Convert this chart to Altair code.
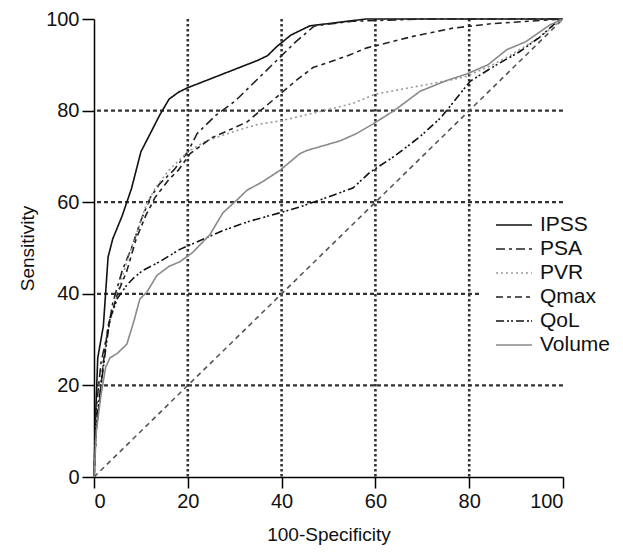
import altair as alt
import pandas as pd

series_names = ["IPSS", "PSA", "PVR", "Qmax", "QoL", "Volume"]

ipss_x = [0, 0.3, 0.8, 2, 3, 4, 6, 8, 10, 12, 14, 16, 18, 20, 25, 30, 35, 37, 39, 42, 46, 50, 58, 100]
ipss_y = [0, 12, 26, 33, 48, 52, 57, 63, 71, 75, 79, 82.5, 84, 85, 87, 89, 91, 92, 94, 96.5, 98.5, 99, 100, 100]

psa_x = [0, 0.5, 1.5, 3, 4, 6, 8, 10, 12, 14, 17, 20, 22, 26, 30, 35, 39, 43, 47, 55, 70, 100]
psa_y = [0, 15, 25, 32, 38, 45, 50, 56, 61, 64, 67, 71, 75, 79, 82, 87, 91, 95, 98.5, 99.5, 100, 100]

pvr_x = [0, 0.5, 1.5, 3, 5, 7, 9, 11, 13, 16, 20, 24, 30, 35, 40, 49, 55, 60, 70, 79, 85, 89, 95, 100]
pvr_y = [0, 12, 22, 32, 40, 47, 53, 59, 63, 67, 71, 73.4, 75.5, 77, 77.8, 80, 81.5, 83.6, 85.5, 87.3, 90, 92.2, 96, 100]

qmax_x = [0, 0.5, 2, 3, 5, 7, 9, 11, 13, 16, 18, 20.5, 25, 32.6, 39, 43, 46.7, 50, 54.6, 58.2, 61, 68, 76.5, 85, 100]
qmax_y = [0, 10, 25, 33, 40, 45, 52, 57, 61, 65, 67, 70.6, 74, 77.5, 83, 86.5, 89.4, 90.5, 92.2, 93.7, 94.4, 96.2, 98, 99, 100]

qol_x = [0, 0.5, 1.5, 2.5, 3.4, 5, 7, 8.5, 10.4, 14, 18.3, 23, 27.5, 33, 39.7, 44, 48.2, 55.2, 58.8, 64, 69.5, 74, 78, 80.2, 85, 90.8, 95, 98.7, 100]
qol_y = [0, 12, 20, 28, 34.6, 39, 41.9, 43.5, 45.1, 47, 49.7, 51.8, 53.8, 55.8, 57.7, 59, 60.5, 63.1, 66.5, 70, 74.3, 78.5, 83.6, 86.4, 89.5, 92.9, 96, 99.4, 100]

volume_x = [0, 0.5, 1.5, 2.5, 3.4, 5, 7, 8.5, 9.2, 9.8, 11.3, 13.4, 16, 18.3, 21, 24.7, 27.5, 30.5, 32.6, 36, 39.7, 43.9, 45.4, 52.5, 56, 59.5, 64, 69.5, 75, 79.5, 84, 88, 92, 97.2, 100]
volume_y = [0, 10, 18, 24, 26, 27, 29, 34, 36.7, 38.9, 40.4, 44, 46, 47, 49, 52.9, 57.7, 60.5, 62.6, 64.5, 67, 70.6, 71.3, 73.4, 75, 77.1, 80, 84.2, 86.5, 88, 90, 93.3, 95, 98.7, 100]

diag_x = [0, 100]
diag_y = [0, 100]

grid_vals = [20, 40, 60, 80]
tick_vals = [0, 20, 40, 60, 80, 100]

series_xy = {
    "IPSS": (ipss_x, ipss_y),
    "PSA": (psa_x, psa_y),
    "PVR": (pvr_x, pvr_y),
    "Qmax": (qmax_x, qmax_y),
    "QoL": (qol_x, qol_y),
    "Volume": (volume_x, volume_y),
}

rows = []
for name in series_names:
    xs, ys = series_xy[name]
    for i, (a, b) in enumerate(zip(xs, ys)):
        rows.append({"series": name, "x": a, "y": b, "idx": i})
df = pd.DataFrame(rows)
diag_df = pd.DataFrame({"x": diag_x, "y": diag_y, "idx": list(range(len(diag_x)))})
grid_df = pd.DataFrame({"v": grid_vals})

colors = ["#111111", "#222222", "#9a9a9a", "#222222", "#111111", "#8a8a8a"]
dashes = [[1, 0], [9, 4, 3, 4], [2, 3], [7, 4, 4, 4], [8, 3, 2, 2, 2, 3], [1, 0]]

FONT = "Liberation Sans"

xscale = alt.Scale(domain=[0, 100], nice=False, zero=False)
yscale = alt.Scale(domain=[0, 100], nice=False, zero=False)

x_axis = alt.Axis(values=tick_vals, title="100-Specificity", grid=False,
                  tickSize=11, labelPadding=3, titlePadding=14)
y_axis = alt.Axis(values=tick_vals, title="Sensitivity", grid=False,
                  tickSize=12, labelPadding=3, titlePadding=8)

vgrid = alt.Chart(grid_df).mark_rule(
    color="#333333", strokeWidth=2.6, strokeDash=[2.5, 2.5]
).encode(x=alt.X("v:Q", scale=xscale, axis=x_axis))

hgrid = alt.Chart(grid_df).mark_rule(
    color="#333333", strokeWidth=2.2, strokeDash=[4, 3]
).encode(y=alt.Y("v:Q", scale=yscale, axis=y_axis))

diag = alt.Chart(diag_df).mark_line(
    color="#555555", strokeWidth=1.6, strokeDash=[5, 4]
).encode(
    x=alt.X("x:Q", scale=xscale, axis=x_axis),
    y=alt.Y("y:Q", scale=yscale, axis=y_axis),
    order="idx:Q",
)

lines = alt.Chart(df).mark_line(strokeWidth=1.6).encode(
    x=alt.X("x:Q", scale=xscale, axis=x_axis),
    y=alt.Y("y:Q", scale=yscale, axis=y_axis),
    color=alt.Color(
        "series:N",
        scale=alt.Scale(domain=series_names, range=colors),
        legend=alt.Legend(
            title=None, orient="none", legendX=386, legendY=192,
            symbolType="M-1.5,0H1.5", symbolSize=576, symbolStrokeWidth=1.6,
            rowPadding=1, padding=1, symbolOffset=20,
            labelFontSize=21, labelFont=FONT, labelColor="#111111",
            labelOffset=13, fillColor="white",
        ),
    ),
    strokeDash=alt.StrokeDash(
        "series:N",
        scale=alt.Scale(domain=series_names, range=dashes),
        legend=None,
    ),
    order="idx:Q",
)

chart = alt.layer(vgrid, hgrid, diag, lines).properties(
    width=469,
    height=458,
    padding={"left": 86, "top": 11, "right": 52, "bottom": 69},
    autosize=alt.AutoSizeParams(type="none"),
).configure_axis(
    domainColor="#000000", domainWidth=1.5,
    tickColor="#000000", tickWidth=1.5,
    labelFont=FONT, labelFontSize=20, labelColor="#111111",
    titleFont=FONT, titleFontSize=19, titleFontWeight="normal", titleColor="#111111",
).configure_view(stroke=None)

chart.save("out.html", embed_options={"renderer": "svg", "actions": False})
